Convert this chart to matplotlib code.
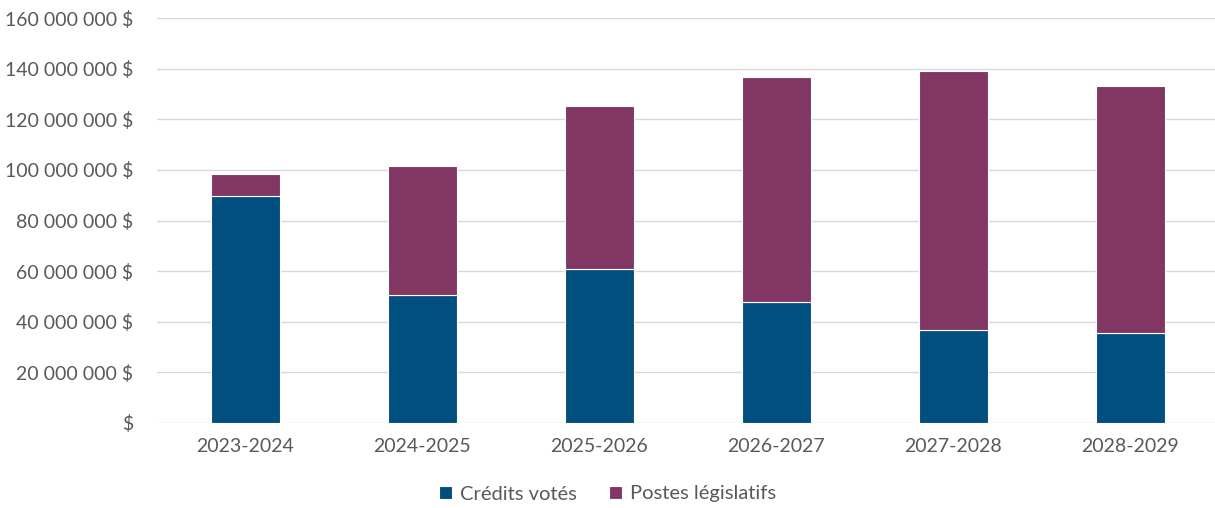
import matplotlib.pyplot as plt
from matplotlib.ticker import FuncFormatter

years = ['2023-2024', '2024-2025', '2025-2026', '2026-2027', '2027-2028', '2028-2029']
credits_votes = [89.7e6, 50.6e6, 60.8e6, 47.7e6, 36.7e6, 35.4e6]
totaux = [98.4e6, 101.7e6, 125.4e6, 136.8e6, 139.2e6, 133.1e6]
postes_legislatifs = [t - c for t, c in zip(totaux, credits_votes)]

blue = '#004F7F'
purple = '#823664'
text_col = '#595959'

plt.rcParams['font.family'] = ['Lato', 'DejaVu Sans']

fig = plt.figure(figsize=(12.15, 5.08), dpi=100)
ax = fig.add_axes([157 / 1215, (508 - 423) / 508, (1215 - 157) / 1215, (423 - 18) / 508])

x = range(len(years))
ax.bar(x, credits_votes, width=0.39, color=blue, edgecolor='white', linewidth=0.8,
       label='Crédits votés', zorder=3)
ax.bar(x, postes_legislatifs, width=0.39, bottom=credits_votes, color=purple,
       edgecolor='white', linewidth=0.8, label='Postes législatifs', zorder=3)

def fmt(v, pos):
    if v == 0:
        return '$'
    return '{:,.0f}'.format(v).replace(',', ' ') + ' $'

ax.set_ylim(0, 160e6)
ax.set_xlim(-0.5, 5.48)
ax.set_yticks([i * 20e6 for i in range(9)])
ax.yaxis.set_major_formatter(FuncFormatter(fmt))
ax.set_xticks(list(x))
ax.set_xticklabels(years)
ax.grid(axis='y', color='#D9D9D9', linewidth=1, zorder=0)
ax.tick_params(axis='both', length=0, labelsize=14, labelcolor=text_col)
ax.tick_params(axis='y', pad=17)
ax.tick_params(axis='x', pad=11)
for s in ax.spines.values():
    s.set_visible(False)

leg = fig.legend(loc='center', bbox_to_anchor=(0.5, (508 - 494) / 508),
                 ncol=2, frameon=False, fontsize=14.5, handlelength=0.65, handleheight=0.65,
                 handletextpad=0.4, columnspacing=1.6)
for t in leg.get_texts():
    t.set_color(text_col)

fig.savefig('out.png', dpi=100, facecolor='white')
